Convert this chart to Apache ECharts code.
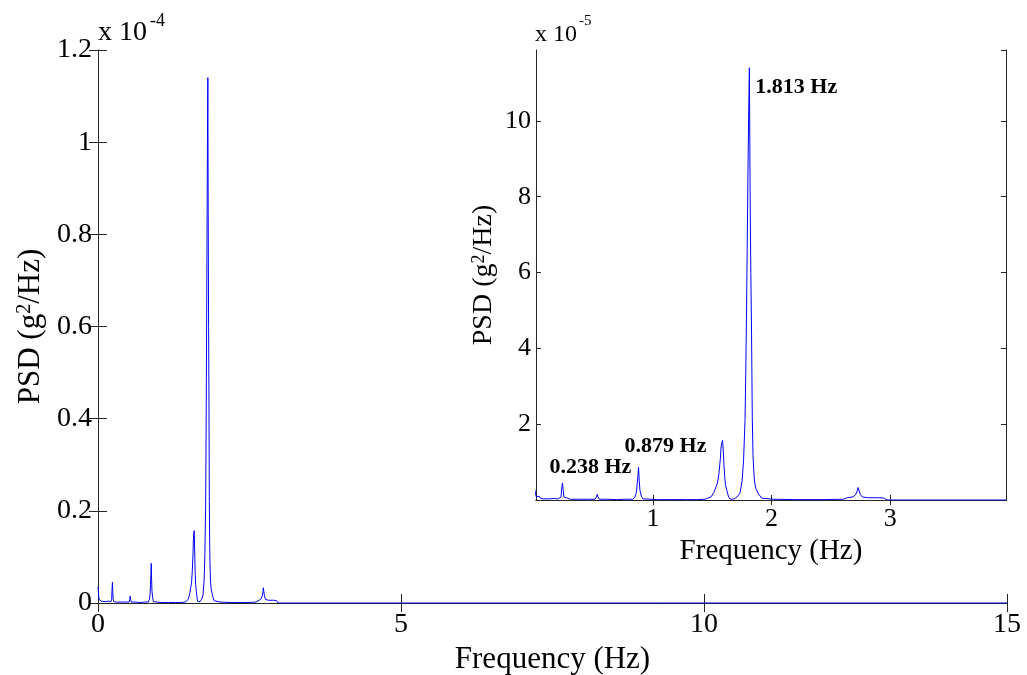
<!DOCTYPE html>
<html>
<head>
<meta charset="utf-8">
<title>PSD</title>
<script src="https://cdn.jsdelivr.net/npm/echarts@6/dist/echarts.min.js"></script>
<style>
  html, body { margin: 0; padding: 0; background: #ffffff; }
  #chart { width: 1027px; height: 675px; }
</style>
</head>
<body>
<div id="chart"></div>
<script>
// Power spectral density of the measured acceleration, in units of 1e-5 g^2/Hz.
// Frequencies sit on the FFT bin grid (df ~ 0.0061 Hz); flat stretches are kept sparse.
const freqHz = [
  0.0000, 0.0061, 0.0122, 0.0183, 0.0305, 0.0427, 0.0549, 0.0732, 0.1221, 0.1709, 0.2014,
  0.2136, 0.2258, 0.2319, 0.2380, 0.2441, 0.2502, 0.2625,
  0.3052, 0.3967, 0.4578,
  0.5127, 0.5249, 0.5310, 0.5371, 0.5493,
  0.6104, 0.7019, 0.7629,
  0.8301, 0.8484, 0.8606, 0.8667, 0.8728, 0.8789, 0.8850, 0.8911, 0.9033, 0.9155, 0.9277,
  1.0376, 1.1597, 1.2817, 1.3733,
  1.4404, 1.4893, 1.5137, 1.5320, 1.5442, 1.5564, 1.5686, 1.5747, 1.5808, 1.5869, 1.5930,
  1.5991, 1.6052, 1.6113, 1.6235, 1.6357, 1.6479, 1.6663,
  1.6846, 1.7090, 1.7334, 1.7517, 1.7639, 1.7761, 1.7822, 1.7883, 1.7944, 1.8005, 1.8066,
  1.8127, 1.8188, 1.8250, 1.8311, 1.8372, 1.8433, 1.8494, 1.8555, 1.8677, 1.8921, 1.9165,
  2.0142, 2.1973, 2.4414, 2.6062,
  2.6367, 2.6855, 2.7100, 2.7222, 2.7283, 2.7344, 2.7466, 2.7649, 2.8076, 2.8992, 2.9480,
  2.9724, 3.6621, 15.0000
];
const psdE5 = [
  0.35, 0.25, 0.14, 0.08, 0.10, 0.10, 0.04, 0.03, 0.03, 0.04, 0.03,
  0.03, 0.08, 0.30, 0.45, 0.25, 0.08, 0.03,
  0.02, 0.02, 0.02,
  0.02, 0.08, 0.15, 0.08, 0.02,
  0.02, 0.01, 0.02,
  0.02, 0.08, 0.20, 0.40, 0.60, 0.86, 0.50, 0.25, 0.10, 0.03, 0.01,
  0.01, 0.01, 0.01, 0.01,
  0.02, 0.08, 0.20, 0.35, 0.45, 0.70, 1.10, 1.40, 1.50, 1.57, 1.30,
  0.90, 0.60, 0.40, 0.25, 0.10, 0.03, 0.02,
  0.03, 0.08, 0.18, 0.50, 1.05, 2.10, 3.30, 4.80, 6.60, 8.50, 10.10,
  11.40, 8.20, 6.00, 4.40, 2.20, 1.20, 0.80, 0.50, 0.30, 0.15, 0.05,
  0.02, 0.01, 0.01, 0.02,
  0.06, 0.08, 0.15, 0.25, 0.33, 0.30, 0.15, 0.08, 0.06, 0.06, 0.05,
  0.00, 0.00, 0.00
];

// Peaks called out in the zoomed view (Hz)
const peakFreqs = [0.2380, 0.8789, 1.8127];
// Label placement relative to each peak (px): [dx, dy] to the label's left-middle point
const peakLabelOffsets = [[-13, -16], [-14, -21], [6, 19]];

// Axis ranges and ticks
const mainXTicks = [0, 5, 10, 15];
const mainYMax = 12;          // 1.2e-4 expressed in 1e-5 units
const insetXTicks = [1, 2, 3];
const insetXRange = [0.015, 3.975];
const insetYMax = 11.87;

const serif = 'Liberation Serif';
const axisColor = '#262626';
const lineBlue = '#0000ff';

const spectrum = freqHz.map((f, i) => [f, psdE5[i]]);

const chart = echarts.init(document.getElementById('chart'), null, { renderer: 'canvas' });

function boxAxis(extra) {
  return Object.assign({
    type: 'value',
    axisLine: { show: true, lineStyle: { color: axisColor, width: 1 } },
    splitLine: { show: false },
    axisLabel: { show: false },
    axisTick: { show: true, inside: true, length: 8, lineStyle: { color: axisColor } }
  }, extra);
}

const option = {
  backgroundColor: '#ffffff',
  animation: false,
  grid: [
    { left: 98, top: 50, right: 20, bottom: 72, containLabel: false, outerBoundsMode: 'none', z: 0 },
    { left: 536, top: 50, right: 21, bottom: 175, containLabel: false, outerBoundsMode: 'none', z: 10,
      show: true, backgroundColor: '#ffffff', borderWidth: 0 }
  ],
  xAxis: [
    boxAxis({
      gridIndex: 0, position: 'bottom', min: 0, max: 15, interval: 5,
      axisTick: { show: true, inside: true, length: 9, lineStyle: { color: axisColor } },
      axisLabel: { show: true, margin: 8, color: '#000', fontFamily: serif, fontSize: 28,
        customValues: mainXTicks },
      name: 'Frequency (Hz)', nameLocation: 'middle', nameGap: 37,
      nameTextStyle: { fontFamily: serif, fontSize: 31, color: '#000' }
    }),
    boxAxis({ gridIndex: 0, position: 'top', min: 0, max: 15, interval: 5,
      axisTick: { show: true, inside: true, length: 9, lineStyle: { color: axisColor } } }),
    boxAxis({
      gridIndex: 1, position: 'bottom', min: insetXRange[0], max: insetXRange[1], z: 11,
      axisTick: { show: true, inside: true, length: 5, customValues: insetXTicks,
        lineStyle: { color: axisColor } },
      axisLabel: { show: true, margin: 6, color: '#000', fontFamily: serif, fontSize: 26,
        customValues: insetXTicks },
      name: 'Frequency (Hz)', nameLocation: 'middle', nameGap: 33,
      nameTextStyle: { fontFamily: serif, fontSize: 29, color: '#000' }
    }),
    boxAxis({
      gridIndex: 1, position: 'top', min: insetXRange[0], max: insetXRange[1], z: 11,
      axisTick: { show: true, inside: true, length: 5, customValues: insetXTicks,
        lineStyle: { color: axisColor } }
    })
  ],
  yAxis: [
    boxAxis({
      gridIndex: 0, position: 'left', min: 0, max: mainYMax, interval: 2,
      axisTick: { show: true, inside: true, length: 9, lineStyle: { color: axisColor } },
      axisLabel: { show: true, margin: 6, color: '#000', fontFamily: serif, fontSize: 28,
        formatter: v => String(+(v / 10).toFixed(1)) },
      name: '{n|PSD (g}{s|2}{n|/Hz)}', nameLocation: 'middle', nameGap: 44, nameRotate: 90,
      nameTextStyle: { fontFamily: serif, fontSize: 31, color: '#000',
        rich: {
          n: { fontFamily: serif, fontSize: 31, color: '#000' },
          s: { fontFamily: serif, fontSize: 20, color: '#000', verticalAlign: 'top' }
        } }
    }),
    boxAxis({ gridIndex: 0, position: 'right', min: 0, max: mainYMax, interval: 2,
      axisTick: { show: true, inside: true, length: 9, lineStyle: { color: axisColor } } }),
    boxAxis({
      gridIndex: 1, position: 'left', min: 0, max: insetYMax, interval: 2, z: 11,
      axisTick: { show: true, inside: true, length: 5, lineStyle: { color: axisColor } },
      axisLabel: { show: true, margin: 5, color: '#000', fontFamily: serif, fontSize: 26,
        showMinLabel: false, showMaxLabel: false },
      name: '{n|PSD (g}{s|2}{n|/Hz)}', nameLocation: 'middle', nameGap: 38, nameRotate: 90,
      nameTextStyle: { fontFamily: serif, fontSize: 28, color: '#000',
        rich: {
          n: { fontFamily: serif, fontSize: 28, color: '#000' },
          s: { fontFamily: serif, fontSize: 18, color: '#000', verticalAlign: 'top' }
        } }
    }),
    boxAxis({ gridIndex: 1, position: 'right', min: 0, max: insetYMax, interval: 2, z: 11,
      axisTick: { show: true, inside: true, length: 5, lineStyle: { color: axisColor } } })
  ],
  series: [
    {
      type: 'line', xAxisIndex: 0, yAxisIndex: 0, data: spectrum,
      showSymbol: false, symbol: 'none', z: 2,
      lineStyle: { color: lineBlue, width: 1 }
    },
    {
      type: 'line', xAxisIndex: 2, yAxisIndex: 2, data: spectrum,
      showSymbol: false, symbol: 'none', z: 12, clip: true,
      lineStyle: { color: lineBlue, width: 1 }
    }
  ],
  graphic: [
    { type: 'text', z: 20, left: 98, top: 19,
      style: { text: 'x 10', font: '28px "Liberation Serif"', fill: '#000' } },
    { type: 'text', z: 20, left: 150, top: 12,
      style: { text: '-4', font: '18px "Liberation Serif"', fill: '#000' } },
    { type: 'text', z: 20, left: 535, top: 23,
      style: { text: 'x 10', font: '24px "Liberation Serif"', fill: '#000' } },
    { type: 'text', z: 20, left: 579, top: 14,
      style: { text: '-5', font: '15px "Liberation Serif"', fill: '#000' } }
  ]
};

chart.setOption(option);

// Peak call-outs, anchored to the peak points through the inset's own axes
const peakTexts = peakFreqs.map((pf, j) => {
  const i = freqHz.indexOf(pf);
  const p = chart.convertToPixel({ xAxisIndex: 2, yAxisIndex: 2 }, [freqHz[i], psdE5[i]]);
  return {
    type: 'text', z: 30,
    x: p[0] + peakLabelOffsets[j][0],
    y: p[1] + peakLabelOffsets[j][1],
    style: {
      text: freqHz[i].toFixed(3) + ' Hz',
      font: 'bold 22px "Liberation Serif"',
      fill: '#000',
      textAlign: 'left',
      textVerticalAlign: 'middle'
    }
  };
});
chart.setOption({ graphic: option.graphic.concat(peakTexts) });
</script>
</body>
</html>
